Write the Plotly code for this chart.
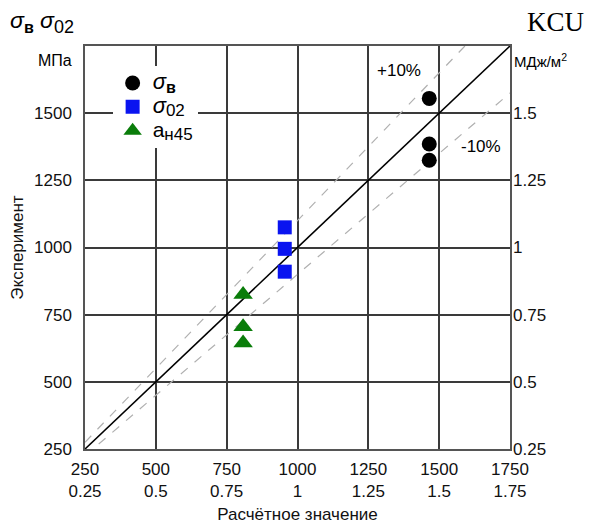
import plotly.graph_objects as go

# ---- data ----
tick_mpa = [250, 500, 750, 1000, 1250, 1500, 1750]
tick_kcu = ["0.25", "0.5", "0.75", "1", "1.25", "1.5", "1.75"]
y_tick_mpa = [250, 500, 750, 1000, 1250, 1500]
y_tick_kcu = [0.25, 0.5, 0.75, 1.0, 1.25, 1.5]
y_tick_kcu_text = ["0.25", "0.5", "0.75", "1", "1.25", "1.5"]

sigma_b_x = [1465, 1465, 1465]
sigma_b_y = [1555, 1385, 1325]
sigma02_x = [955, 955, 955]
sigma02_y = [1075, 995, 910]
a_x = [808, 808, 808]
a_y = [825, 705, 645]

rng = [250, 1750]
band = [1.1, 0.9]

FONT = "Liberation Sans, Arial, sans-serif"


def big(txt, px):
    return f"<span style='font-size:{px}px'>{txt}</span>"


def sub(txt, px):
    return f"<sub>{big(txt, px)}</sub>"


fig = go.Figure()

# reference lines
fig.add_trace(go.Scatter(x=rng, y=rng, mode="lines",
                         line=dict(color="black", width=1.6),
                         showlegend=False, hoverinfo="skip"))
for k in band:
    xs = [rng[0], min(rng[1], rng[1] / k)]
    fig.add_trace(go.Scatter(x=xs, y=[v * k for v in xs], mode="lines",
                             line=dict(color="#b0b0b0", width=1.2, dash="dash"),
                             showlegend=False, hoverinfo="skip"))

fig.add_trace(go.Scatter(x=sigma_b_x, y=sigma_b_y, mode="markers",
                         name=big("<i>σ</i>", 22) + sub("<b>в</b>", 16),
                         marker=dict(symbol="circle", size=15, color="black")))
fig.add_trace(go.Scatter(x=sigma02_x, y=sigma02_y, mode="markers",
                         name=big("<i>σ</i>", 22) + sub("02", 17),
                         marker=dict(symbol="square", size=14, color="#0a14f0")))
fig.add_trace(go.Scatter(x=a_x, y=a_y, mode="markers",
                         name=big("a", 21) + sub("н45", 17),
                         marker=dict(symbol="triangle-up", size=17, color="#0a7d0a")))

# dummy trace for right axis
fig.add_trace(go.Scatter(x=[rng[0]], y=[0.25], yaxis="y2", mode="markers",
                         marker=dict(opacity=0), showlegend=False, hoverinfo="skip"))

grid = "#3a3a3a"
fig.update_layout(
    width=596, height=524,
    margin=dict(l=85, r=86, t=46, b=75),
    paper_bgcolor="white", plot_bgcolor="white",
    font=dict(family=FONT, size=17, color="#111"),
    xaxis=dict(range=rng, tickvals=tick_mpa, automargin=False,
               ticktext=[f"{a}<br>{b}" for a, b in zip(tick_mpa, tick_kcu)],
               showgrid=True, gridcolor=grid, gridwidth=1.5,
               showline=True, linecolor="#555", linewidth=1.5, mirror=True,
               zeroline=False, ticks="", ticklen=0, ticklabelstandoff=4,
               title=dict(text="Расчётное значение", font=dict(size=17), standoff=9)),
    yaxis=dict(range=rng, tickvals=y_tick_mpa, ticktext=[str(v) for v in y_tick_mpa],
               automargin=False,
               showgrid=True, gridcolor=grid, gridwidth=1.5,
               showline=True, linecolor="#555", linewidth=1.5, mirror=True,
               zeroline=False, ticks="", ticklen=0, ticklabelstandoff=8,
               title=dict(text="Эксперимент", font=dict(size=17), standoff=6)),
    yaxis2=dict(range=[0.25, 1.75], overlaying="y", side="right", automargin=False,
                tickvals=y_tick_kcu, ticktext=y_tick_kcu_text,
                showgrid=False, zeroline=False, ticks="", showline=False,
                ticklabelstandoff=2),
    legend=dict(x=0.065, y=0.95, xanchor="left", yanchor="top",
                bgcolor="white", borderwidth=0,
                font=dict(size=16, family=FONT, color="black"),
                itemsizing="trace", tracegroupgap=0, itemwidth=30),
    showlegend=True,
)

ann = [
    dict(text="<i>σ</i>" + sub("<b>в</b>", 16) + " <i>σ</i>" + sub("02", 18), x=8, y=22,
         font=dict(size=23, color="black")),
    dict(text="МПа", x=36, y=60, font=dict(size=16, color="black")),
    dict(text="KCU", x=525, y=22, font=dict(size=27, family="Liberation Serif, serif", color="black")),
    dict(text="МДж/м<sup>2</sup>", x=512, y=60, font=dict(size=15, color="black")),
    dict(text="+10%", x=375, y=70, font=dict(size=17, color="black")),
    dict(text="-10%", x=459, y=146, font=dict(size=17, color="black")),
]
for a in ann:
    fig.add_annotation(text=a["text"], xref="paper", yref="paper",
                       x=(a["x"] - 85) / 425, y=(449 - a["y"]) / 403,
                       xanchor="left", yanchor="middle", showarrow=False,
                       font=dict(family=a["font"].get("family", FONT),
                                 size=a["font"]["size"], color=a["font"]["color"]))

fig.write_html("out.html")
